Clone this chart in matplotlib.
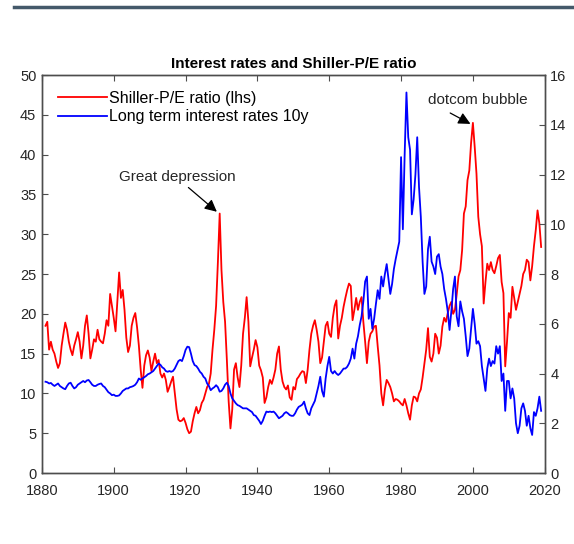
import numpy as np
import matplotlib
matplotlib.use("Agg")
import matplotlib.pyplot as plt

plt.rcParams['font.family'] = ['Liberation Sans', 'DejaVu Sans']

# Shiller P/E ratio, half-yearly from 1881.0 (lhs)
pe = [
    18.5, 19.0, 15.5, 16.5, 15.5, 15.0, 14.0, 13.2, 13.8, 16.0,   # 1881-85
    17.5, 18.9, 18.0, 16.5, 15.5, 14.8, 16.0, 16.8, 17.7, 16.5,   # 1886-90
    14.4, 16.0, 18.5, 19.8, 17.5, 14.4, 15.5, 16.8, 16.5, 18.0,   # 1891-95
    16.8, 16.5, 16.3, 17.5, 19.2, 18.5, 22.5, 21.0, 19.5, 17.8,   # 1896-1900
    21.5, 25.2, 22.0, 23.0, 20.5, 17.0, 15.2, 16.0, 18.5, 19.5,   # 1901-05
    20.1, 18.3, 16.0, 13.0, 10.7, 13.5, 14.8, 15.4, 14.5, 12.8,   # 1906-10
    14.0, 15.0, 13.8, 14.2, 12.5, 12.0, 12.5, 11.7, 10.2, 10.8,   # 1911-15
    11.5, 12.1, 10.0, 8.0, 6.7, 6.5, 6.6, 6.9, 6.3, 5.5,          # 1916-20
    5.0, 5.2, 6.5, 7.5, 8.3, 7.5, 7.9, 8.8, 9.2, 10.0,            # 1921-25
    10.8, 11.2, 12.5, 15.5, 18.0, 21.0, 26.5, 32.6, 25.5, 21.5,   # 1926-30
    19.0, 14.2, 9.0, 5.6, 8.0, 13.0, 13.8, 12.0, 10.8, 13.5,      # 1931-35
    17.5, 19.5, 22.1, 19.0, 13.4, 14.5, 15.5, 16.7, 15.8, 13.5,   # 1936-40
    12.9, 12.0, 8.8, 9.5, 10.8, 11.7, 11.2, 12.0, 13.0, 15.0,     # 1941-45
    15.9, 13.0, 11.5, 10.8, 10.5, 11.0, 9.5, 9.2, 10.8, 10.5,     # 1946-50
    11.8, 12.1, 12.5, 12.8, 12.7, 11.3, 13.0, 15.5, 17.5, 18.5,   # 1951-55
    19.2, 18.0, 16.5, 13.8, 14.5, 16.5, 18.5, 19.0, 17.5, 17.1,   # 1956-60
    19.5, 21.0, 21.7, 16.9, 18.5, 19.5, 20.9, 22.0, 23.0, 23.8,   # 1961-65
    23.5, 19.2, 20.5, 22.0, 20.5, 21.5, 22.1, 19.0, 16.5, 13.8,   # 1966-70
    16.5, 17.5, 17.8, 18.4, 18.5, 15.9, 13.5, 10.0, 8.5, 10.5,    # 1971-75
    11.7, 11.3, 10.8, 10.0, 9.0, 9.3, 9.2, 9.0, 8.7, 8.5,         # 1976-80
    9.3, 8.5, 7.5, 6.7, 8.5, 9.6, 9.5, 9.0, 10.0, 10.5,           # 1981-85
    12.0, 13.8, 15.5, 18.2, 14.6, 14.0, 15.0, 17.5, 17.0, 15.0,   # 1986-90
    16.0, 18.4, 19.5, 19.0, 20.1, 21.0, 21.5, 20.0, 20.5, 22.5,   # 1991-95
    24.7, 25.5, 28.0, 32.6, 33.5, 36.8, 38.0, 41.5, 44.0, 41.0,   # 1996-2000
    37.6, 32.2, 30.0, 28.5, 21.3, 24.0, 26.3, 25.5, 26.5, 25.5,   # 2001-05
    25.1, 26.0, 27.0, 27.4, 24.0, 22.6, 13.4, 16.5, 20.1, 19.5,   # 2006-10
    23.4, 22.0, 20.5, 21.5, 22.5, 23.5, 25.0, 25.5, 26.8, 26.5,   # 2011-15
    24.2, 26.0, 28.5, 30.5, 33.0, 31.4, 28.4,                     # 2016-19
]

# long term interest rates 10y in %, half-yearly from 1881.0 (rhs)
rates = [
    3.67, 3.65, 3.6, 3.62, 3.55, 3.5, 3.55, 3.6, 3.5, 3.45,       # 1881-85
    3.4, 3.37, 3.5, 3.6, 3.63, 3.5, 3.4, 3.45, 3.55, 3.6,         # 1886-90
    3.65, 3.7, 3.65, 3.72, 3.74, 3.65, 3.55, 3.5, 3.5, 3.55,      # 1891-95
    3.58, 3.6, 3.5, 3.45, 3.35, 3.25, 3.2, 3.13, 3.15, 3.1,       # 1896-1900
    3.1, 3.12, 3.2, 3.3, 3.35, 3.4, 3.4, 3.45, 3.47, 3.5,         # 1901-05
    3.55, 3.65, 3.8, 3.75, 3.8, 3.85, 3.9, 3.97, 4.0, 4.05,       # 1906-10
    4.1, 4.2, 4.3, 4.4, 4.35, 4.25, 4.2, 4.1, 4.07, 4.1,          # 1911-15
    4.07, 4.1, 4.2, 4.35, 4.5, 4.55, 4.5, 4.7, 4.95, 5.08,        # 1916-20
    5.06, 4.8, 4.5, 4.34, 4.3, 4.2, 4.07, 4.0, 3.87, 3.8,         # 1921-25
    3.6, 3.5, 3.33, 3.4, 3.45, 3.53, 3.45, 3.27, 3.3, 3.4,        # 1926-30
    3.55, 3.63, 3.5, 3.2, 3.0, 2.9, 2.8, 2.73, 2.7, 2.65,         # 1931-35
    2.6, 2.6, 2.6, 2.55, 2.5, 2.45, 2.33, 2.3, 2.2, 2.1,          # 1936-40
    1.97, 2.1, 2.3, 2.47, 2.45, 2.47, 2.45, 2.47, 2.4, 2.3,       # 1941-45
    2.2, 2.25, 2.3, 2.4, 2.45, 2.4, 2.33, 2.3, 2.3, 2.4,          # 1946-50
    2.55, 2.66, 2.7, 2.75, 2.87, 2.6, 2.4, 2.33, 2.6, 2.75,       # 1951-55
    2.9, 3.2, 3.5, 3.87, 3.3, 3.07, 3.8, 4.3, 4.67, 4.1,          # 1956-60
    4.0, 4.1, 4.0, 3.94, 4.0, 4.1, 4.2, 4.2, 4.27, 4.4,           # 1961-65
    4.6, 5.0, 4.6, 5.2, 5.5, 5.95, 6.3, 6.9, 7.7, 7.9,            # 1966-70
    6.2, 6.6, 5.8, 6.2, 6.8, 7.35, 7.0, 7.9, 7.5, 8.0,            # 1971-75
    8.4, 7.8, 7.2, 7.6, 8.2, 8.6, 8.96, 9.3, 12.7, 9.8,           # 1976-80
    12.8, 15.3, 13.5, 13.0, 10.4, 11.0, 12.0, 13.5, 11.5, 10.3,   # 1981-85
    8.5, 7.2, 7.5, 9.0, 9.5, 8.5, 8.3, 8.0, 8.7, 8.8,             # 1986-90
    8.3, 8.0, 7.4, 7.0, 6.5, 5.75, 6.5, 7.4, 7.9, 6.3,            # 1991-95
    5.9, 6.9, 6.5, 6.2, 5.5, 4.7, 5.0, 5.8, 6.6, 6.0,             # 1996-2000
    5.2, 5.3, 5.1, 4.3, 3.8, 3.3, 4.2, 4.6, 4.3, 4.5,             # 2001-05
    4.4, 5.1, 4.8, 5.1, 3.7, 4.0, 2.5, 3.7, 3.7, 3.0,             # 2006-10
    3.4, 3.0, 2.0, 1.6, 1.9, 2.6, 2.8, 2.5, 1.9, 2.3,             # 2011-15
    1.8, 1.53, 2.45, 2.3, 2.6, 3.07, 2.5,                         # 2016-19
]

pe_years = 1881 + 0.5 * np.arange(len(pe))
rate_years = 1881 + 0.5 * np.arange(len(rates))

fig = plt.figure(figsize=(5.74, 5.44), dpi=100)
ax = fig.add_axes([0.073, 0.1305, 0.876, 0.7315])
ax2 = ax.twinx()

# dark rule at the top of the page
fig.add_artist(plt.Line2D([0.024, 1.0], [0.987, 0.987], color='#44596a', lw=2.5))

l1, = ax.plot(pe_years, pe, color='#ff0000', lw=1.3, label='Shiller-P/E ratio (lhs)')
l2, = ax2.plot(rate_years, rates, color='#0000ff', lw=1.3, label='Long term interest rates 10y')

ax.set_xlim(1880, 2020)
ax.set_ylim(0, 50)
ax2.set_ylim(0, 16)
ax.set_xticks(range(1880, 2021, 20))
ax.set_yticks(range(0, 51, 5))
ax2.set_yticks(range(0, 17, 2))

grey = '#4d4d4d'
for a in (ax, ax2):
    for s in a.spines.values():
        s.set_color(grey)
        s.set_linewidth(1.0)
    a.tick_params(direction='in', length=4, colors=grey, labelcolor='#262626', labelsize=10.5)
ax.tick_params(axis='x', top=True, pad=8)
ax.tick_params(axis='y', pad=4)
ax2.tick_params(axis='y', pad=4)

ax.set_title('Interest rates and Shiller-P/E ratio', fontsize=11, fontweight='bold', pad=5)

ax.legend(handles=[l1, l2], loc='upper left', bbox_to_anchor=(0.019, 0.976), borderaxespad=0,
          frameon=False, handlelength=3.05, handletextpad=0.15, fontsize=11.5, labelspacing=0.2)

# annotations
ax.text(1917.6, 37.2, 'Great depression', fontsize=11, ha='center', va='center', color='#262626')
ax.annotate('', xy=(1929.3, 32.6), xytext=(1920.2, 36.1),
            arrowprops=dict(arrowstyle='-|>', color='black', lw=0.9, mutation_scale=18))
ax.text(2001.3, 46.9, 'dotcom bubble', fontsize=11, ha='center', va='center', color='#262626')
ax.annotate('', xy=(2000.0, 43.7), xytext=(1993.0, 45.4),
            arrowprops=dict(arrowstyle='-|>', color='black', lw=0.9, mutation_scale=18))

fig.savefig('out.png', dpi=100)
